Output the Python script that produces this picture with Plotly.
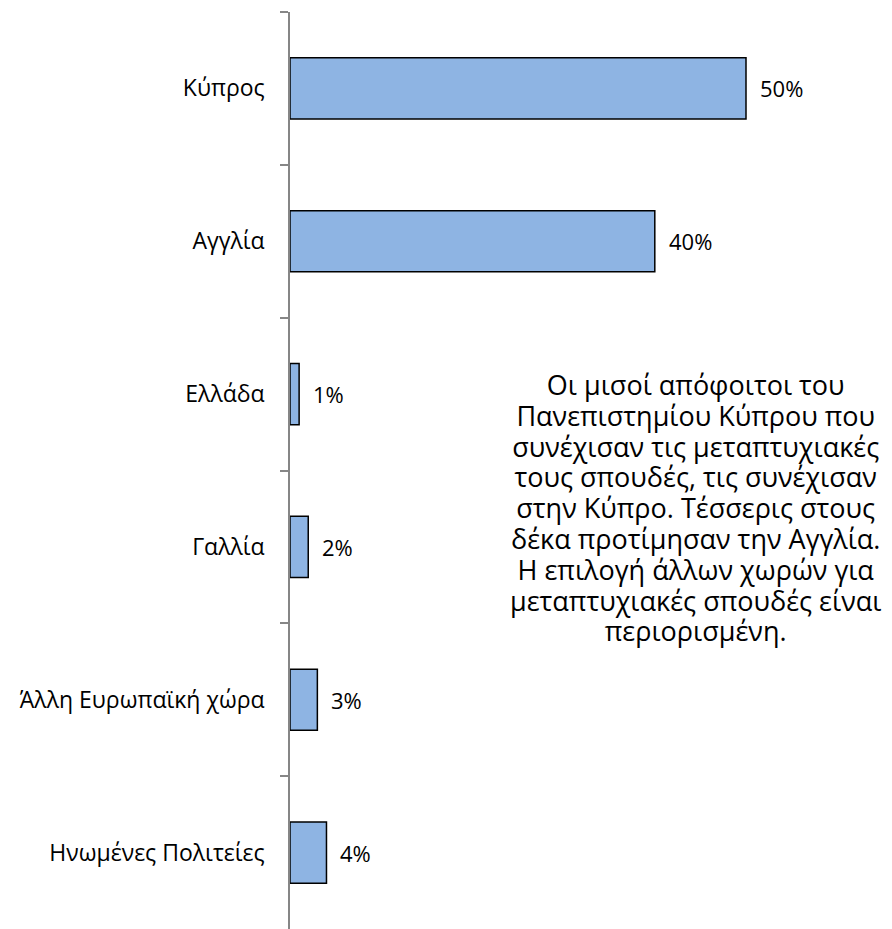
import plotly.graph_objects as go

categories = ["Κύπρος", "Αγγλία", "Ελλάδα", "Γαλλία", "Άλλη Ευρωπαϊκή χώρα", "Ηνωμένες Πολιτείες"]
values = [50, 40, 1, 2, 3, 4]
labels = ["50%", "40%", "1%", "2%", "3%", "4%"]

note_lines = [
    "Οι μισοί απόφοιτοι του",
    "Πανεπιστημίου Κύπρου που",
    "συνέχισαν τις μεταπτυχιακές",
    "τους σπουδές, τις συνέχισαν",
    "στην Κύπρο. Τέσσερις στους",
    "δέκα προτίμησαν την Αγγλία.",
    "Η επιλογή άλλων χωρών για",
    "μεταπτυχιακές σπουδές είναι",
    "περιορισμένη.",
]

FONT = "Open Sans"

# layout geometry (page has an 8px body offset)
W, H = 884, 921
ML, MR, MT, MB = 282, 2, 4, 0
plot_w = W - ML - MR
plot_h = H - MT - MB
PX_PER_UNIT = 9.12

fig = go.Figure(
    go.Bar(
        x=values,
        y=categories,
        orientation="h",
        marker=dict(color="#8EB4E3", line=dict(color="#000000", width=1.5)),
        width=0.4,
        hoverinfo="skip",
    )
)

annotations = []
for v, c, t in zip(values, categories, labels):
    annotations.append(
        dict(
            x=v, y=c, xref="x", yref="y", text=t, showarrow=False,
            xanchor="left", yanchor="middle", xshift=12,
            font=dict(family=FONT, size=22, color="#000000"),
        )
    )

# note text: one block; base font sets the line spacing (1.3 x size ≈ 30.8px),
# spans render the glyphs at the larger size
note_text = "<br>".join(f'<span style="font-size:27px">{ln}</span>' for ln in note_lines)
cx_page, cy_page = 695, 507
annotations.append(
    dict(
        x=(cx_page - 8 - ML) / plot_w,
        y=1 - (cy_page - 8 - MT) / plot_h,
        xref="paper", yref="paper", text=note_text, showarrow=False,
        xanchor="center", yanchor="middle", align="center",
        font=dict(family=FONT, size=23.7, color="#000000"),
    )
)

fig.update_layout(
    width=W,
    height=H,
    margin=dict(l=ML, r=MR, t=MT, b=MB, autoexpand=False),
    paper_bgcolor="white",
    plot_bgcolor="white",
    showlegend=False,
    font=dict(family=FONT, size=23, color="#000000"),
    xaxis=dict(
        range=[0, plot_w / PX_PER_UNIT],
        visible=False,
        showgrid=False,
        zeroline=False,
    ),
    yaxis=dict(
        categoryorder="array",
        categoryarray=categories,
        autorange="reversed",
        showline=True,
        linecolor="#868686",
        linewidth=1.5,
        ticks="outside",
        tickson="boundaries",
        ticklen=8,
        tickcolor="#868686",
        tickwidth=1.5,
        showgrid=False,
        automargin=False,
        ticklabelstandoff=19,
        tickfont=dict(family=FONT, size=23, color="#000000"),
    ),
    annotations=annotations,
)

fig.write_html("out.html")
